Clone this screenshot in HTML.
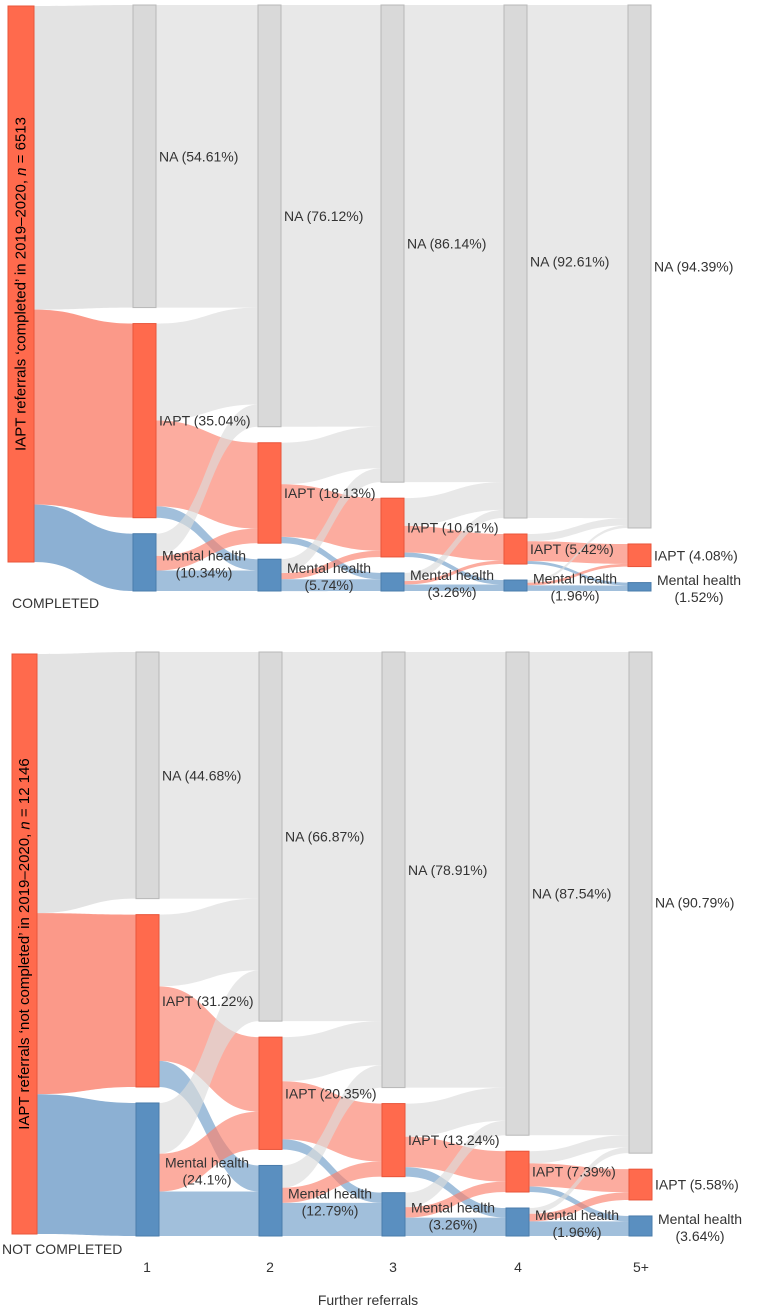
<!DOCTYPE html>
<html><head><meta charset="utf-8">
<style>
body{margin:0;background:#fff;}
svg{display:block;font-family:"Liberation Sans","DejaVu Sans",sans-serif;}
text{fill:#333;font-size:14px;}
</style></head>
<body>
<svg id="chart" width="760" height="1314" viewBox="0 0 760 1314" xmlns="http://www.w3.org/2000/svg">
<g id="panels"></g>
<g>
<text x="147" y="1272" text-anchor="middle">1</text>
<text x="270" y="1272" text-anchor="middle">2</text>
<text x="393" y="1272" text-anchor="middle">3</text>
<text x="518" y="1272" text-anchor="middle">4</text>
<text x="641" y="1272" text-anchor="middle">5+</text>
<text x="368" y="1305" text-anchor="middle">Further referrals</text>
</g>
<text x="12" y="608">COMPLETED</text>
<text x="2" y="1254">NOT COMPLETED</text>
</svg>
<script>
// categories
const categories = ["NA","IAPT","Mental health"];
// top panel (completed) node percentages per column
const topLabels = [[54.61,35.04,10.34],[76.12,18.13,5.74],[86.14,10.61,3.26],[92.61,5.42,1.96],[94.39,4.08,1.52]];
// top flows: source -> col1, then transitions [from][to]
const topSourceFlows = [54.61,35.04,10.34];
const topTrans = [
 [[54.61,0,0],[17.5,15.5,2.04],[4.01,2.63,3.7]],
 [[76.12,0,0],[7.5,9.5,1.13],[2.52,1.11,2.13]],
 [[86.14,0,0],[5.0,4.8,0.81],[1.47,0.62,1.17]],
 [[92.61,0,0],[1.3,3.6,0.52],[0.48,0.48,1.0]]
];
const botLabels = [[44.68,31.22,24.1],[66.87,20.35,12.79],[78.91,13.24,3.26],[87.54,7.39,1.96],[90.79,5.58,3.64]];
const botSourceFlows = [44.68,31.22,24.1];
const botTrans = [
 [[44.68,0,0],[13,13.5,4.72],[9.19,6.85,8.06]],
 [[66.87,0,0],[8,10.5,1.85],[4.04,2.74,6.0]],
 [[78.91,0,0],[6,5.5,1.74],[2.63,1.89,3.33]],
 [[87.54,0,0],[2.2,4.2,0.99],[1.05,1.38,2.64]]
];
const nodeFill=["#d9d9d9","#ff6a4d","#5a8fc0"];
const nodeStroke=["#b8b8b8","#e8553a","#4a7cab"];
const linkFill=["#dcdcdc","#fa7f6b","#6f9cc8"];
const NS="http://www.w3.org/2000/svg";
const root=document.getElementById('panels');
function mk(tag,attrs,parent){const e=document.createElementNS(NS,tag);for(const k in attrs)e.setAttribute(k,attrs[k]);(parent||root).appendChild(e);return e;}
function linkPath(x0,a0,b0,x1,a1,b1){const m=(x0+x1)/2;return `M${x0},${a0}C${m},${a0} ${m},${a1} ${x1},${a1}L${x1},${b1}C${m},${b1} ${m},${b0} ${x0},${b0}Z`;}

function drawPanel(cfg){
 const g=mk('g',{});
 
 
 const pad=16, avail=cfg.y1-cfg.y0-2*pad;
 const cols=[cfg.src.slice()];
 cfg.trans.forEach(t=>{cols.push([0,1,2].map(j=>t[0][j]+t[1][j]+t[2][j]));});
 const nodes=cols.map(v=>{const tot=v[0]+v[1]+v[2];const k=avail/tot;let y=cfg.y0;return v.map(val=>{const h=val*k;const n={y:y,h:h,k:k};y+=h+pad;return n;});});
 const sk=(cfg.sy1-cfg.sy0)/100;
 const lg=mk('g',{},g);
 let sy=cfg.sy0;
 cfg.src.forEach((v,j)=>{const tn=nodes[0][j];
  const p=mk('path',{d:linkPath(cfg.sx+cfg.sw,sy,sy+v*sk,cfg.xs[0],tn.y,tn.y+v*tn.k),fill:linkFill[j],'fill-opacity':0.8},lg);
  
  
  sy+=v*sk;});
 cfg.trans.forEach((t,c)=>{
  const outOff=[0,0,0];
  const A=nodes[c], B=nodes[c+1];
  for(let i=0;i<3;i++)for(let j=0;j<3;j++){
   const v=t[i][j]; if(v<=0)continue;
   const a0=A[i].y+outOff[i]; outOff[i]+=v*A[i].k;
   let off=0; for(let s=0;s<i;s++) off+=t[s][j]*B[j].k;
   const b0=B[j].y+off;
   const p=mk('path',{d:linkPath(cfg.xs[c]+cfg.w,a0,a0+v*A[i].k,cfg.xs[c+1],b0,b0+v*B[j].k),fill:linkFill[j],'fill-opacity':0.65},lg);
   
   
  }});
 const sr=mk('rect',{x:cfg.sx,y:cfg.sy0,width:cfg.sw,height:cfg.sy1-cfg.sy0,fill:nodeFill[1],stroke:nodeStroke[1]},g);
 
 
 const cx=cfg.sx+cfg.sw/2, cy=(cfg.sy0+cfg.sy1)/2;
 const st=mk('text',{x:cx,y:cy,'text-anchor':'middle','dominant-baseline':'central',transform:`rotate(-90 ${cx} ${cy})`,style:'fill:#000;font-size:15px'},g);
 
 
 st.innerHTML=cfg.title;
 nodes.forEach((col,c)=>col.forEach((n,j)=>{
  const r=mk('rect',{x:cfg.xs[c],y:n.y,width:cfg.w,height:n.h,fill:nodeFill[j],stroke:nodeStroke[j]},g);
  
  
  const pct=cfg.labels[c][j];
  const lx=cfg.xs[c]+cfg.w+3, ly=n.y+n.h/2;
  if(j<2){
   const t=mk('text',{x:lx,y:ly,'dominant-baseline':'central'},g);
   
   
   t.textContent=categories[j]+' ('+pct+'%)';
  }else{
   const t=mk('text',{x:lx+45,y:ly,'text-anchor':'middle'},g);
   
   
   t.innerHTML=`<tspan x="${lx+45}" dy="-2">Mental health</tspan><tspan x="${lx+45}" dy="17">(${pct}%)</tspan>`;
  }
 }));
}
drawPanel({name:'completed-panel',y0:5,y1:591,sy0:6,sy1:562,sx:8,sw:26,xs:[133,258,381,504,628],w:23,src:topSourceFlows,trans:topTrans,labels:topLabels,
 title:"IAPT referrals ‘completed’ in 2019–2020, <tspan font-style='italic'>n</tspan> = 6513"});
drawPanel({name:'not-completed-panel',y0:652,y1:1236,sy0:654,sy1:1234,sx:12,sw:25,xs:[136,259,382,506,629],w:23,src:botSourceFlows,trans:botTrans,labels:botLabels,
 title:"IAPT referrals ‘not completed’ in 2019–2020, <tspan font-style='italic'>n</tspan> = 12 146"});
</script>
</body></html>
